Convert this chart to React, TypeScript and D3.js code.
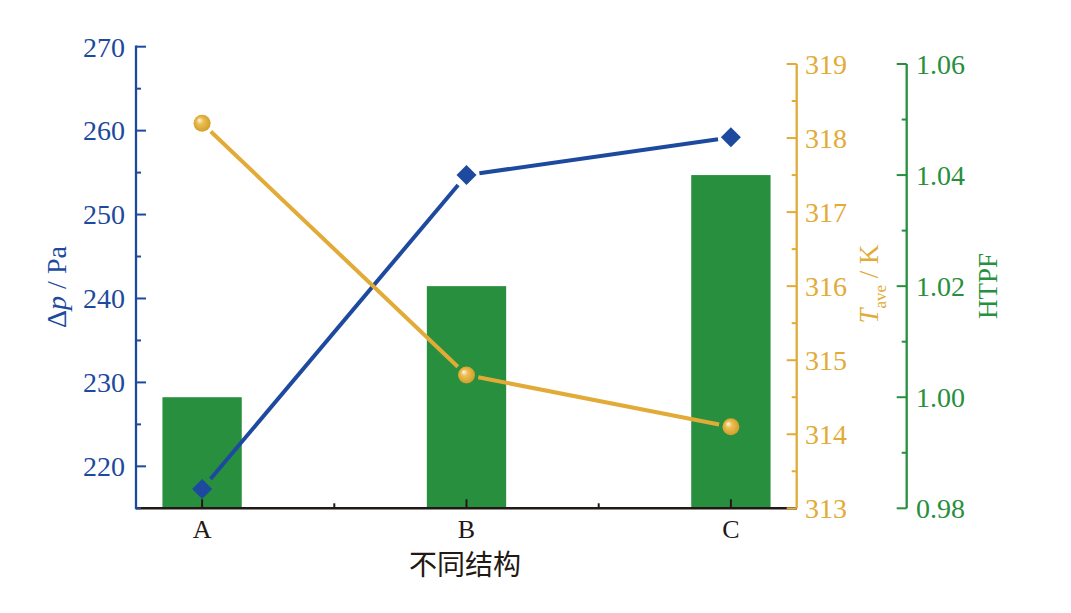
import React from 'react';
import * as d3 from 'd3';

const categories = ['A', 'B', 'C'];
const dpValues = [217.3, 254.7, 259.2];
const taveValues = [318.2, 314.8, 314.1];
const htpfValues = [1.0, 1.02, 1.04];
const dpTicks = [220, 230, 240, 250, 260, 270];
const tTicks = [313, 314, 315, 316, 317, 318, 319];
const hTicks = [0.98, 1.0, 1.02, 1.04, 1.06];

const BLUE = '#1d4a9e';
const GOLD = '#e2ab37';
const GREEN = '#278f3d';
const BLACK = '#231815';
const SERIF = 'Liberation Serif, serif';

const W = 1071;
const H = 613;
const X0 = 136;
const X1 = 797;
const YB = 508.3;

function trimmedSegments(pts: [number, number][], gap: number) {
  const segs: [number, number, number, number][] = [];
  for (let i = 0; i < pts.length - 1; i++) {
    const [x1, y1] = pts[i];
    const [x2, y2] = pts[i + 1];
    const dx = x2 - x1, dy = y2 - y1;
    const L = Math.hypot(dx, dy);
    const ux = dx / L, uy = dy / L;
    segs.push([x1 + ux * gap, y1 + uy * gap, x2 - ux * gap, y2 - uy * gap]);
  }
  return segs;
}

export default function App() {
  const x = d3.scalePoint<string>().domain(categories).range([X0, X1]).padding(0.25);
  const step = x.step();
  const barW = step * 0.3;
  const yDp = d3.scaleLinear().domain([215, 270]).range([YB, 46.7]);
  const yT = d3.scaleLinear().domain([313, 319]).range([YB, 64]);
  const yH = d3.scaleLinear().domain([0.98, 1.06]).range([YB, 64]);

  const dpPts: [number, number][] = categories.map((c, i) => [x(c)!, yDp(dpValues[i])]);
  const tPts: [number, number][] = categories.map((c, i) => [x(c)!, yT(taveValues[i])]);

  const dpMinor = d3.range(215, 270.01, 5);
  const tMinor = d3.range(313, 319.01, 0.5);
  const hMinor = d3.range(0.98, 1.0601, 0.01);
  const xMid = categories.slice(0, -1).map((c, i) => (x(c)! + x(categories[i + 1])!) / 2);

  const TX = 796.7;
  const HX = 906.7;

  return (
    <svg width={W} height={H} style={{ position: 'absolute', left: 0, top: 0, background: '#fff', fontFamily: SERIF }}>
      <defs>
        <radialGradient id="ball" cx="50%" cy="50%" r="55%" fx="32%" fy="30%">
          <stop offset="0%" stopColor="#fffbe8" />
          <stop offset="35%" stopColor="#ecbf55" />
          <stop offset="100%" stopColor="#cf9a25" />
        </radialGradient>
      </defs>

      {/* bars */}
      {categories.map((c, i) => (
        <rect key={c} x={x(c)! - barW / 2} y={yH(htpfValues[i])} width={barW} height={YB - yH(htpfValues[i])} fill={GREEN} />
      ))}

      {/* x axis */}
      <line x1={X0} x2={X1} y1={YB} y2={YB} stroke={BLACK} strokeWidth={2.5} />
      {categories.map((c) => (
        <line key={c} x1={x(c)!} x2={x(c)!} y1={YB} y2={YB - 9} stroke={BLACK} strokeWidth={2} />
      ))}
      {xMid.map((m, i) => (
        <line key={i} x1={m} x2={m} y1={YB} y2={YB - 5} stroke={BLACK} strokeWidth={2} />
      ))}
      {categories.map((c) => (
        <text key={c} x={x(c)!} y={538} textAnchor="middle" style={{ fontFamily: SERIF }} fontSize={26} fill={BLACK}>{c}</text>
      ))}
      <text x={465} y={575} textAnchor="middle" style={{ fontFamily: '"Noto Sans CJK SC", sans-serif' }} fontSize={28} fill={BLACK}>不同结构</text>

      {/* left axis */}
      <line x1={X0} x2={X0} y1={45.5} y2={YB + 1} stroke={BLUE} strokeWidth={2.3} />
      {dpMinor.map((v) => {
        const major = dpTicks.includes(Math.round(v));
        return <line key={v} x1={X0} x2={X0 + (major ? 10 : 5)} y1={yDp(v)} y2={yDp(v)} stroke={BLUE} strokeWidth={2} />;
      })}
      {dpTicks.map((v) => (
        <text key={v} x={125} y={yDp(v)} dy="0.35em" textAnchor="end" style={{ fontFamily: SERIF }} fontSize={28} fill={BLUE}>{v}</text>
      ))}
      <text transform="translate(66,287) rotate(-90)" textAnchor="middle" style={{ fontFamily: SERIF }} fontSize={28} fill={BLUE}>
        Δ<tspan fontStyle="italic">p</tspan> / Pa
      </text>

      {/* T axis */}
      <line x1={TX} x2={TX} y1={64} y2={YB} stroke={GOLD} strokeWidth={2.3} />
      {tMinor.map((v) => {
        const major = Math.abs(v - Math.round(v)) < 1e-6;
        return <line key={v} x1={TX} x2={TX - (major ? 10 : 5)} y1={yT(v)} y2={yT(v)} stroke={GOLD} strokeWidth={2} />;
      })}
      {tTicks.map((v) => (
        <text key={v} x={805} y={yT(v)} dy="0.35em" textAnchor="start" style={{ fontFamily: SERIF }} fontSize={28} fill={GOLD}>{v}</text>
      ))}
      <text transform="translate(878,284) rotate(-90)" textAnchor="middle" style={{ fontFamily: SERIF }} fontSize={27} fill={GOLD}>
        <tspan fontStyle="italic">T</tspan>
        <tspan fontSize={17} dy={8}>ave</tspan>
        <tspan dy={-8}> / K</tspan>
      </text>

      {/* HTPF axis */}
      <line x1={HX} x2={HX} y1={64} y2={YB} stroke={GREEN} strokeWidth={2.3} />
      {hMinor.map((v, i) => {
        const major = i % 2 === 0;
        return <line key={i} x1={HX} x2={HX - (major ? 10 : 5)} y1={yH(v)} y2={yH(v)} stroke={GREEN} strokeWidth={2} />;
      })}
      {hTicks.map((v) => (
        <text key={v} x={916} y={yH(v)} dy="0.35em" textAnchor="start" style={{ fontFamily: SERIF }} fontSize={28} fill={GREEN}>{v.toFixed(2)}</text>
      ))}
      <text transform="translate(997,286) rotate(-90)" textAnchor="middle" style={{ fontFamily: SERIF }} fontSize={27} fill={GREEN}>HTPF</text>

      {/* Δp line */}
      {trimmedSegments(dpPts, 13).map((s, i) => (
        <line key={i} x1={s[0]} y1={s[1]} x2={s[2]} y2={s[3]} stroke={BLUE} strokeWidth={4} />
      ))}
      {dpPts.map(([px, py], i) => (
        <path key={i} d={`M${px},${py - 10}L${px + 10},${py}L${px},${py + 10}L${px - 10},${py}Z`} fill={BLUE} />
      ))}

      {/* T line */}
      {trimmedSegments(tPts, 12).map((s, i) => (
        <line key={i} x1={s[0]} y1={s[1]} x2={s[2]} y2={s[3]} stroke={GOLD} strokeWidth={4} />
      ))}
      {tPts.map(([px, py], i) => (
        <circle key={i} cx={px} cy={py} r={8.5} fill="url(#ball)" />
      ))}
    </svg>
  );
}
